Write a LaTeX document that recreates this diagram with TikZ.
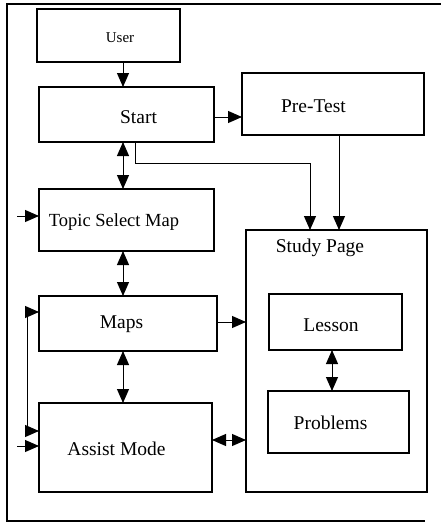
\documentclass[tikz,border=0pt]{standalone}
\usepackage{fontspec}
\setmainfont{Liberation Serif}
\usetikzlibrary{arrows.meta}
\begin{document}
\begin{tikzpicture}[x=1pt,y=-1pt,
  box/.style={draw, line width=1.1pt, rectangle, inner sep=0pt, outer sep=0pt},
  lbl/.style={anchor=base, inner sep=0pt, font=\rmfamily\fontsize{19.5}{22}\selectfont},
  arr/.style={line width=1pt, -{Triangle[length=14pt,width=12pt]}},
  darr/.style={line width=1pt, {Triangle[length=14pt,width=12pt]}-{Triangle[length=14pt,width=12pt]}}]
\useasboundingbox (0,0) rectangle (441,525);

% open outer frame
\draw[line width=1.1pt] (441,4) -- (7,4) -- (7,521) -- (425,521);

% boxes
\node[box, minimum width=143pt, minimum height=53pt]  (user)     at (108.5,35.5) {};
\node[box, minimum width=175pt, minimum height=55pt]  (start)    at (126.5,114.5) {};
\node[box, minimum width=182pt, minimum height=62pt]  (pretest)  at (333,104) {};
\node[box, minimum width=175pt, minimum height=62pt]  (topic)    at (126.5,220) {};
\node[box, minimum width=178pt, minimum height=55pt]  (maps)     at (128,323.5) {};
\node[box, minimum width=173pt, minimum height=89pt]  (assist)   at (125.5,447.5) {};
\node[box, minimum width=181pt, minimum height=262pt] (study)    at (336.5,361) {};
\node[box, minimum width=133pt, minimum height=56pt]  (lesson)   at (335.5,322) {};
\node[box, minimum width=141pt, minimum height=62pt]  (problems) at (338.5,422) {};

% labels
\node[lbl, font=\rmfamily\fontsize{15}{17}\selectfont] (tuser) at (120,42) {User};
\node[lbl] (tstart)    at (138.5,123) {Start};
\node[lbl] (tpretest)  at (313.5,112) {Pre-Test};
\node[lbl, font=\rmfamily\fontsize{18.5}{21}\selectfont] (ttopic) at (114,226) {Topic Select Map};
\node[lbl] (tstudy)    at (320,252) {Study Page};
\node[lbl] (tmaps)     at (121.5,328) {Maps};
\node[lbl] (tlesson)   at (331,331) {Lesson};
\node[lbl] (tproblems) at (330.5,429) {Problems};
\node[lbl] (tassist)   at (116.5,455) {Assist Mode};

% routing coordinates
\coordinate (colA) at (123,0);
\coordinate (colB) at (135,0);
\coordinate (colC) at (310,0);
\coordinate (colD) at (339,0);
\coordinate (colE) at (332,0);
\coordinate (rowPre) at (0,117);
\coordinate (rowMaps) at (0,322);
\coordinate (rowAssist) at (0,440);
\coordinate (inTopic) at (17,216);
\coordinate (inAssist) at (17,446);
\coordinate (loopTop) at (27,312);
\coordinate (loopBot) at (27,431);
\coordinate (bendL) at (135,163);
\coordinate (bendR) at (310,163);

% connectors
\draw[arr]  (user.south -| colA) -- (start.north -| colA);
\draw[arr]  (start.east |- rowPre) -- (pretest.west |- rowPre);
\draw[darr] (start.south -| colA) -- (topic.north -| colA);
\draw[arr]  (start.south -| colB) -- (bendL) -- (bendR) -- (study.north -| colC);
\draw[arr]  (pretest.south -| colD) -- (study.north -| colD);
\draw[arr]  (inTopic) -- (topic.west |- inTopic);
\draw[darr] (topic.south -| colA) -- (maps.north -| colA);
\draw[arr]  (maps.east |- rowMaps) -- (study.west |- rowMaps);
\draw[darr] (maps.south -| colA) -- (assist.north -| colA);
\draw[darr] (lesson.south -| colE) -- (problems.north -| colE);
\draw[darr] (assist.east |- rowAssist) -- (study.west |- rowAssist);
\draw[darr] (maps.west |- loopTop) -- (loopTop) -- (loopBot) -- (assist.west |- loopBot);
\draw[arr]  (inAssist) -- (assist.west |- inAssist);
\end{tikzpicture}
\end{document}
